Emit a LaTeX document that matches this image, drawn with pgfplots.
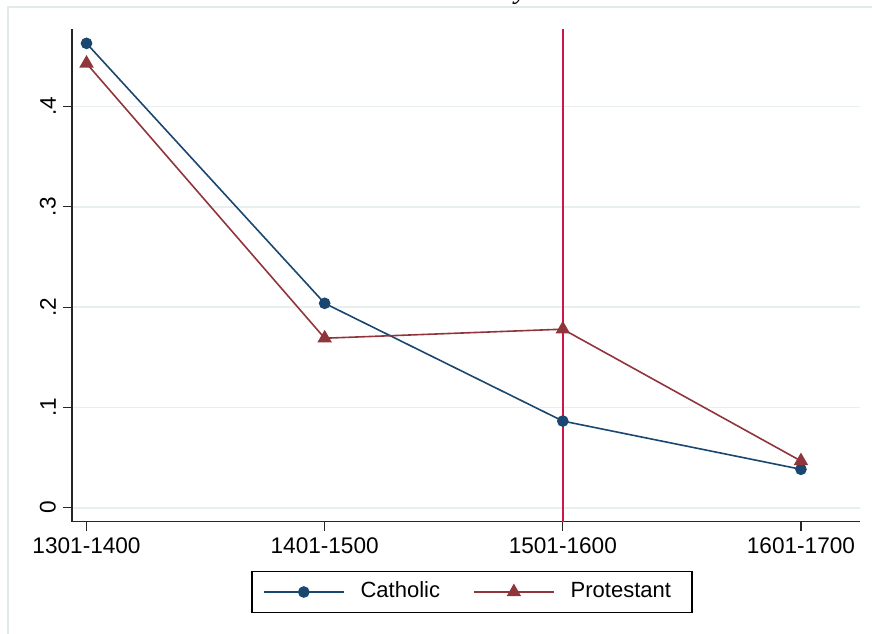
\documentclass[border=0pt]{standalone}
\usepackage{fontspec}
\setmainfont{Liberation Sans}
\newfontfamily\titlefont{Liberation Serif}
\usepackage{pgfplots}
\pgfplotsset{compat=1.18}
\definecolor{stnavy}{RGB}{26,71,111}
\definecolor{stmaroon}{RGB}{144,53,59}
\definecolor{vline}{RGB}{210,20,70}
\definecolor{gridc}{RGB}{232,239,241}
\definecolor{framec}{RGB}{226,234,236}

\begin{document}
\begin{tikzpicture}
\path[use as bounding box] (0,0) rectangle (436pt,-316.5pt);
% outer graph region frame, cut off at right and bottom
\draw[framec, line width=0.6pt] (4pt,-330pt) -- (4pt,-3.5pt) -- (450pt,-3.5pt);
% title, only its descender shows
\node[font=\titlefont\itshape\fontsize{14}{16}\selectfont, anchor=base, inner sep=0pt] at (260.5pt,0.8pt) {y};
\begin{axis}[
    at={(36pt,-260.85pt)}, anchor=south west,
    scale only axis, width=394pt, height=246.35pt,
    xmin=-0.061, xmax=3.248, ymin=-0.01396, ymax=0.4773,
    axis x line*=bottom, axis y line*=left,
    axis line style={black!85, line width=0.6pt, -},
    tick align=outside, major tick length=4.5pt,
    tick style={black!85, line width=0.6pt},
    xtick={0,1,2,3},
    xticklabels={1301-1400,1401-1500,1501-1600,1601-1700},
    ytick={0,0.1,0.2,0.3,0.4},
    yticklabels={0,.1,.2,.3,.4},
    ticklabel style={font=\fontsize{11.3}{13}\selectfont},
    yticklabel style={rotate=90, anchor=south},
    ymajorgrids, grid style={gridc, line width=0.8pt},
    legend columns=2,
    legend image code/.code={\draw[#1, mark repeat=2, mark phase=2] plot coordinates {(0pt,0pt) (20pt,0pt) (40pt,0pt)};},
    legend style={at={(0.5076,-0.1427)}, anchor=center,
      draw=black, line width=0.6pt, inner xsep=5.5pt, inner ysep=5pt,
      nodes={inner sep=0pt, text height=8pt, text depth=2.2pt, font=\fontsize{11}{13}\selectfont},
      /tikz/every odd column/.append style={column sep=8pt},
      /tikz/every even column/.append style={column sep=16.5pt}},
  ]
\addplot[vline, line width=0.9pt, forget plot] coordinates {(2,-0.01396) (2,0.4773)};
\addplot[stnavy, line width=0.8pt, mark=*, mark size=2.5pt, mark options={solid, fill=stnavy}]
  coordinates {(0,0.463) (1,0.2038) (2,0.0864) (3,0.0383)};
\addplot[stmaroon, line width=0.8pt, mark=triangle*, mark size=3.4pt, mark options={solid, fill=stmaroon}]
  coordinates {(0,0.443) (1,0.169) (2,0.178) (3,0.0466)};
\legend{Catholic,Protestant\hspace*{5pt}}
\end{axis}
\end{tikzpicture}
\end{document}
